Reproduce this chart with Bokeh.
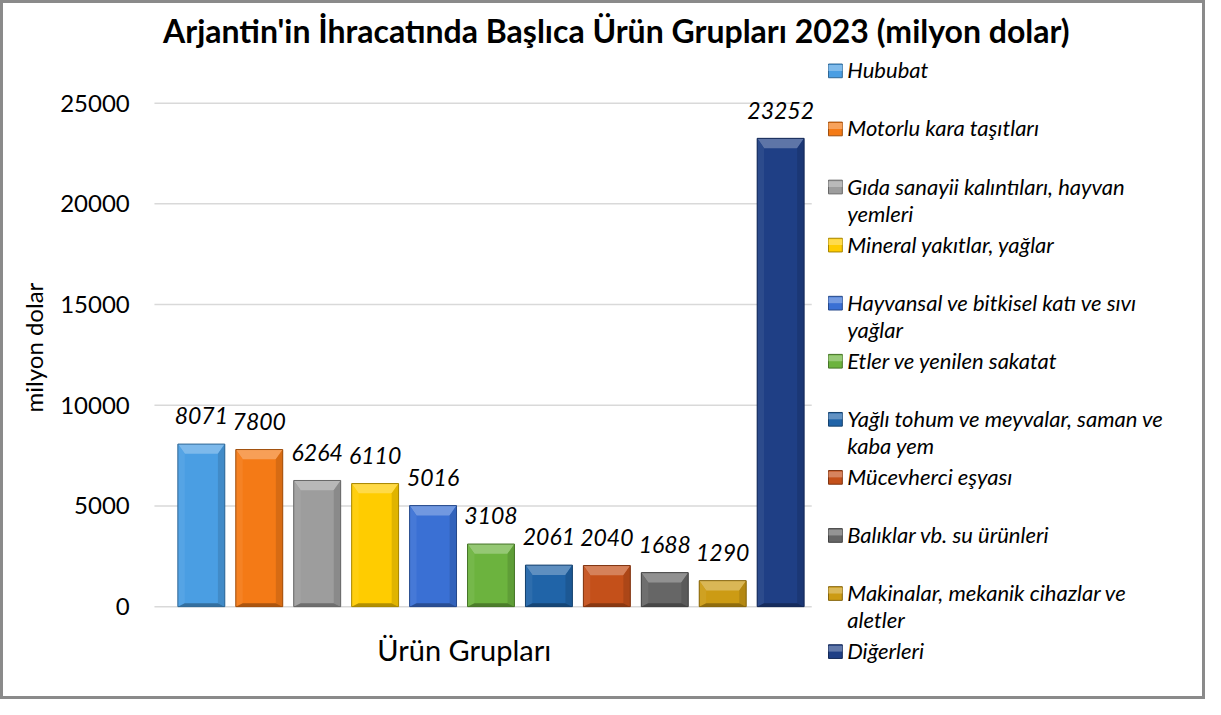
import textwrap
from bokeh.plotting import figure
from bokeh.models import Range1d
from bokeh.core.properties import value
from bokeh.embed import file_html
from bokeh.resources import INLINE

# ---------------- data ----------------
title_text = "Arjantin'in İhracatında Başlıca Ürün Grupları 2023 (milyon dolar)"
x_label = "Ürün Grupları"
y_label = "milyon dolar"
categories = [
    "Hububat",
    "Motorlu kara taşıtları",
    "Gıda sanayii kalıntıları, hayvan yemleri",
    "Mineral yakıtlar, yağlar",
    "Hayvansal ve bitkisel katı ve sıvı yağlar",
    "Etler ve yenilen sakatat",
    "Yağlı tohum ve meyvalar, saman ve kaba yem",
    "Mücevherci eşyası",
    "Balıklar vb. su ürünleri",
    "Makinalar, mekanik cihazlar ve aletler",
    "Diğerleri",
]
values = [8071, 7800, 6264, 6110, 5016, 3108, 2061, 2040, 1688, 1290, 23252]
colors = ["#4a9ee3", "#f47a16", "#9d9d9d", "#ffcc00", "#3a70d4", "#6cb33e",
          "#2064a8", "#c4501a", "#666666", "#cc9b14", "#1f3f85"]
y_ticks = [0, 5000, 10000, 15000, 20000, 25000]

# ---------------- layout helpers (reference pixel -> data) ----------------
W, H = 1205, 699
REF_W, REF_H = 1221, 715
X0_PX, XSTEP_PX = 203.5, 58.7          # first bar centre, bar spacing (ref px)
Y0_PX, YPX_PER_UNIT = 620.0, 515.0 / 25000.0

def X(a):
    return (a - X0_PX) / XSTEP_PX

def Y(a):
    return (Y0_PX - a) / YPX_PER_UNIT

def dx(px):
    return px / XSTEP_PX

def dy(px):
    return px / YPX_PER_UNIT

def mix(c, t, f):
    c = c.lstrip("#"); t = t.lstrip("#")
    a = [int(c[i:i + 2], 16) for i in (0, 2, 4)]
    b = [int(t[i:i + 2], 16) for i in (0, 2, 4)]
    r = [round(a[k] + (b[k] - a[k]) * f) for k in range(3)]
    return "#%02x%02x%02x" % tuple(r)

FONT = "Lato"

p = figure(width=W, height=H, output_backend="svg", toolbar_location=None,
           x_range=Range1d(X(0), X(REF_W)), y_range=Range1d(Y(REF_H), Y(0)),
           min_border=0, min_border_left=0, min_border_right=0,
           min_border_top=0, min_border_bottom=0)
p.xaxis.visible = False
p.yaxis.visible = False
p.grid.visible = False
p.background_fill_color = "white"
p.border_fill_color = "white"
p.outline_line_color = "#8a8a8a"
p.outline_line_width = 5

# gridlines
gx0, gx1 = X(156), X(822)
p.segment(x0=[gx0] * len(y_ticks), x1=[gx1] * len(y_ticks), y0=y_ticks, y1=y_ticks,
          line_color="#d9d9d9", line_width=1.5)

# y tick labels
p.text(x=[X(131)] * len(y_ticks), y=y_ticks, text=[str(t) for t in y_ticks],
       text_align="right", text_baseline="middle", text_font=value(FONT),
       text_font_size="24px", text_color="#000000")

# y axis label
p.text(x=[X(33)], y=[Y(355)], text=[y_label], angle=1.5707963,
       text_align="center", text_baseline="middle", text_font=value(FONT),
       text_font_size="24px", text_color="#000000")

# x axis label
p.text(x=[X(470)], y=[Y(664)], text=[x_label], text_align="center",
       text_baseline="middle", text_font=value(FONT), text_font_size="29px",
       text_color="#000000")

# title
p.text(x=[X(624)], y=[Y(31)], text=[title_text], text_align="center",
       text_baseline="middle", text_font=value(FONT), text_font_size="32px",
       text_font_style="bold", text_color="#000000")

# bars with bevel
bw = 0.81
bpx = 7
top_xs, top_ys, lft_xs, lft_ys, rgt_xs, rgt_ys, bot_xs, bot_ys = [], [], [], [], [], [], [], []
top_c, lft_c, rgt_c, bot_c = [], [], [], []
for i, v in enumerate(values):
    l, r, t, b = i - bw / 2, i + bw / 2, v, 0
    ex, ey = dx(bpx), dy(bpx)
    eyt = dy(10)
    top_xs.append([l, r, r - ex, l + ex]); top_ys.append([t, t, t - eyt, t - eyt])
    lft_xs.append([l, l + ex, l + ex, l]); lft_ys.append([t, t - eyt, b + ey * 0.5, b])
    rgt_xs.append([r, r - ex, r - ex, r]); rgt_ys.append([t, t - eyt, b + ey * 0.5, b])
    bot_xs.append([l, r, r - ex, l + ex]); bot_ys.append([b, b, b + ey * 0.5, b + ey * 0.5])
    c = colors[i]
    top_c.append(mix(c, "#ffffff", 0.28))
    lft_c.append(mix(c, "#ffffff", 0.06))
    rgt_c.append(mix(c, "#000000", 0.12))
    bot_c.append(mix(c, "#000000", 0.30))

xs_idx = list(range(len(values)))
p.vbar(x=xs_idx, top=values, bottom=0, width=bw, fill_color=colors, line_color=None)
p.patches(top_xs, top_ys, fill_color=top_c, line_color=None)
p.patches(lft_xs, lft_ys, fill_color=lft_c, line_color=None)
p.patches(rgt_xs, rgt_ys, fill_color=rgt_c, line_color=None)
p.patches(bot_xs, bot_ys, fill_color=bot_c, line_color=None)
p.vbar(x=xs_idx, top=values, bottom=0, width=bw, fill_color=None,
       line_color=[mix(c, "#000000", 0.35) for c in colors], line_width=1)

# data labels
p.text(x=xs_idx, y=[v + dy(29) for v in values], text=[str(v) for v in values],
       text_align="center", text_baseline="middle", text_font=value(FONT),
       text_font_size="23px", text_font_style="italic", text_color="#000000")

# legend
sq_x, sq_y, sq_c, sq_line = [], [], [], []
lt_x, lt_y, lt_t = [], [], []
for k, name in enumerate(categories):
    cy = 71 + 59.4 * k
    sq_x.append(X(846)); sq_y.append(Y(cy + 1)); sq_c.append(colors[k])
    sq_line.append(mix(colors[k], "#000000", 0.35))
    for j, line in enumerate(textwrap.wrap(name, width=34)):
        lt_x.append(X(858)); lt_y.append(Y(cy + 28 * j)); lt_t.append(line)
p.rect(x=sq_x, y=sq_y, width=dx(14), height=dy(14), fill_color=sq_c,
       line_color=sq_line, line_width=1)
p.rect(x=sq_x, y=[y + dy(3) for y in sq_y], width=dx(14), height=dy(6),
       fill_color=[mix(c, "#ffffff", 0.3) for c in sq_c], line_color=None)
p.text(x=lt_x, y=lt_y, text=lt_t, text_align="left", text_baseline="middle",
       text_font=value(FONT), text_font_size="22px", text_font_style="italic",
       text_color="#000000")

open("out.html", "w").write(file_html(p, INLINE))
